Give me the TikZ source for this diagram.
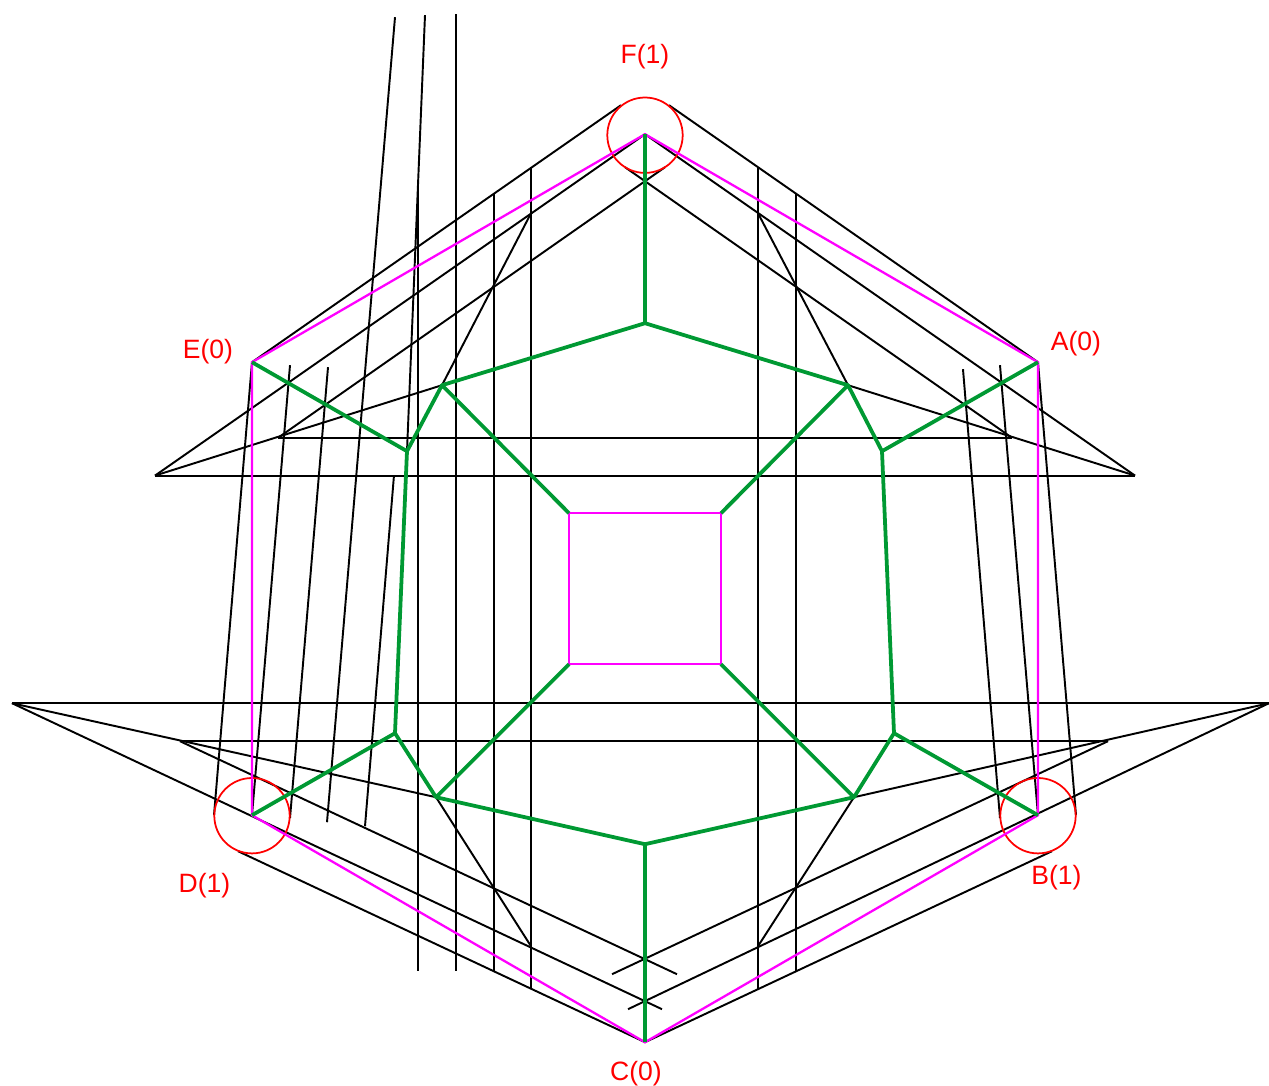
\documentclass[tikz,border=0pt]{standalone}
\usepackage{fontspec}
\setmainfont{Liberation Sans}
\definecolor{edgegreen}{RGB}{0,153,51}
\definecolor{hullpink}{RGB}{255,0,255}
\begin{document}
\begin{tikzpicture}[x=0.02cm,y=-0.02cm,font=\fontsize{15.1pt}{18pt}\selectfont,
    guide/.style={black,line width=1.1pt},
    hull/.style={hullpink,line width=1.3pt},
    edge/.style={edgegreen,line width=2.15pt,line join=round},
    ring/.style={red,line width=1pt},
    vertexlabel/.style={text=red,inner sep=0pt}]
  \useasboundingbox (0,-0.2) rectangle (1269,1085.8);
  % hexagon and square
  \coordinate (F) at (645,134);
  \coordinate (A) at (1038,362);
  \coordinate (B) at (1038,815);
  \coordinate (C) at (645,1042);
  \coordinate (D) at (252,815);
  \coordinate (E) at (252,362);
  \coordinate (s1) at (569,513);
  \coordinate (s2) at (721,513);
  \coordinate (s3) at (721,664);
  \coordinate (s4) at (569,664);
  % inner tree
  \coordinate (t) at (645,323);
  \coordinate (tl) at (442,385);
  \coordinate (tr) at (848,385);
  \coordinate (ml) at (407,451);
  \coordinate (mr) at (882,451);
  \coordinate (nl) at (395,733);
  \coordinate (nr) at (894,733);
  \coordinate (bl) at (436,797);
  \coordinate (br) at (854,797);
  \coordinate (b) at (645,844);
  % apexes of the guides
  \coordinate (p1) at (155,475.4);
  \coordinate (p2) at (1135,475.4);
  \coordinate (q1) at (278,437.6);
  \coordinate (q2) at (1012,437.6);
  \coordinate (u1) at (12,703);
  \coordinate (u2) at (1269,703);
  \coordinate (v1) at (180,741);
  \coordinate (v2) at (1108,741);
  % slanted and straight sides
  \draw[guide] (E) -- (621,105);
  \draw[guide] (A) -- (669,105);
  \draw[guide] (p1) -- (F) -- (p2);
  \draw[guide] (q1) -- (665,167);
  \draw[guide] (q2) -- (625,167);
  \draw[guide] (p1) -- (p2);
  \draw[guide] (q1) -- (q2);
  \draw[guide] (p1) -- (tl) -- (531,213);
  \draw[guide] (p2) -- (tr) -- (758,213);
  \draw[guide] (u1) -- (u2);
  \draw[guide] (v1) -- (v2);
  \draw[guide] (u1) -- (bl) -- (531,946);
  \draw[guide] (u2) -- (br) -- (758,946);
  \draw[guide] (u1) -- (662,1009);
  \draw[guide] (u2) -- (628,1009);
  \draw[guide] (v1) -- (677,974);
  \draw[guide] (v2) -- (612,974);
  \draw[guide] (238,851) -- (C) -- (1052,851);
  % verticals
  \draw[guide] (418,190) -- (418,971);
  \draw[guide] (456,14) -- (456,971);
  \draw[guide] (494,194) -- (494,971);
  \draw[guide] (531,168) -- (531,989);
  \draw[guide] (758,168) -- (758,989);
  \draw[guide] (796,194) -- (796,971);
  \draw[guide] (E) -- (214,815);
  \draw[guide] (290,365) -- (D);
  \draw[guide] (328,367) -- (290,818);
  \draw[guide] (395,17) -- (327,822);
  \draw[guide] (394,475) -- (365,826);
  \draw[guide] (425,15) -- (ml);
  \draw[guide] (A) -- (1076,815);
  \draw[guide] (1000,365) -- (B);
  \draw[guide] (963,369) -- (1000,818);
  % circles
  \draw[ring] (645,135) circle (37.7);
  \draw[ring] (1038,815.5) circle (37.7);
  \draw[ring] (252,815.5) circle (37.7);
  \draw[hull] (F) -- (A) -- (B) -- (C) -- (D) -- (E) -- cycle;
  \draw[hull] (s1) -- (s2) -- (s3) -- (s4) -- cycle;
  \draw[edge] (F) -- (t);
  \draw[edge] (tl) -- (t) -- (tr);
  \draw[edge] (E) -- (ml) -- (tl) -- (s1);
  \draw[edge] (A) -- (mr) -- (tr) -- (s2);
  \draw[edge] (ml) -- (nl) -- (D);
  \draw[edge] (mr) -- (nr) -- (B);
  \draw[edge] (nl) -- (bl) -- (s4);
  \draw[edge] (nr) -- (br) -- (s3);
  \draw[edge] (bl) -- (b) -- (br);
  \draw[edge] (b) -- (C);
  % labels
  \node[vertexlabel] (labF) at (645,56) {F(1)};
  \node[vertexlabel] (labA) at (1076,343) {A(0)};
  \node[vertexlabel] (labE) at (208,351) {E(0)};
  \node[vertexlabel] (labB) at (1056.5,877) {B(1)};
  \node[vertexlabel] (labD) at (204.5,885) {D(1)};
  \node[vertexlabel] (labC) at (636,1073) {C(0)};
\end{tikzpicture}
\end{document}
